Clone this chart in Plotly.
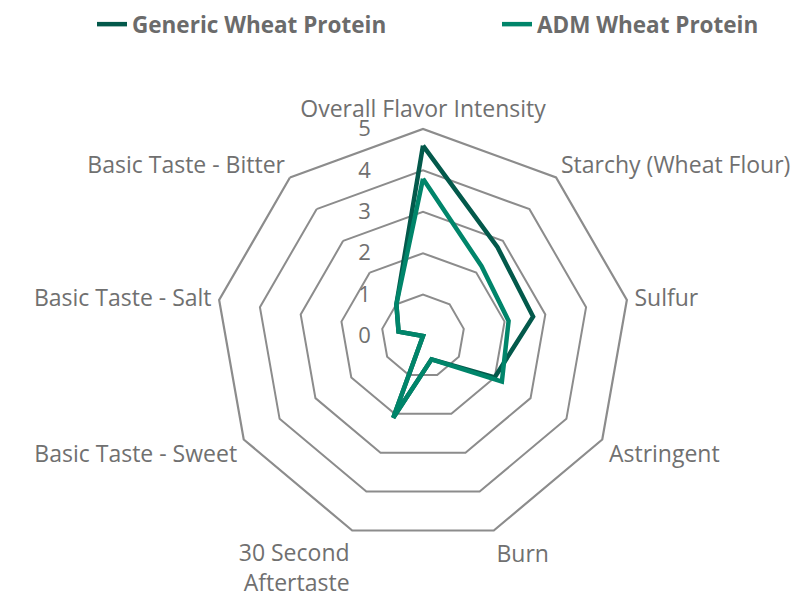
import plotly.graph_objects as go

categories = ["Overall Flavor Intensity", "Starchy (Wheat Flour)", "Sulfur", "Astringent",
              "Burn", "30 Second<br>Aftertaste", "Basic Taste - Sweet", "Basic Taste - Salt",
              "Basic Taste - Bitter"]
generic_values = [4.6, 2.8, 2.7, 2.0, 0.6, 2.1, 0.0, 0.6, 1.0]
adm_values = [3.8, 2.2, 2.1, 2.2, 0.6, 2.1, 0.0, 0.6, 1.0]
radial_ticks = [0, 1, 2, 3, 4, 5]

GRID = "#8c8c8c"
TXT = "#707070"
LEG_FONT = dict(size=22.5, color="#6b6b6b", family="'Open Sans', sans-serif", weight="bold")

fig = go.Figure()
fig.add_trace(go.Scatterpolar(
    r=generic_values + generic_values[:1], theta=categories + categories[:1],
    mode="lines", name="Generic Wheat Protein", legend="legend",
    line=dict(color="#03594B", width=4.5, shape="linear")))
fig.add_trace(go.Scatterpolar(
    r=adm_values + adm_values[:1], theta=categories + categories[:1],
    mode="lines", name="ADM Wheat Protein", legend="legend2",
    line=dict(color="#00856A", width=4.5, shape="linear")))

fig.update_layout(
    width=809, height=600,
    margin=dict(l=0, r=0, t=0, b=0, autoexpand=False),
    paper_bgcolor="white",
    font=dict(family="'Open Sans', sans-serif", color=TXT, size=20),
    showlegend=True,
    legend=dict(orientation="h", x=84 / 809, xanchor="left", y=1.0083, yanchor="top",
                font=LEG_FONT, itemwidth=30, bgcolor="rgba(0,0,0,0)"),
    legend2=dict(orientation="h", x=489 / 809, xanchor="left", y=1.0083, yanchor="top",
                 font=LEG_FONT, itemwidth=30, bgcolor="rgba(0,0,0,0)"),
    polar=dict(
        domain=dict(x=[208 / 809, 622 / 809], y=[1 - 535 / 600, 1 - 121 / 600]),
        bgcolor="white",
        gridshape="linear",
        radialaxis=dict(range=[0, 5], tickvals=radial_ticks, angle=90, tickangle=90,
                        side="counterclockwise", showline=False, showgrid=True,
                        gridcolor=GRID, gridwidth=2.2, ticks="outside", ticklen=44,
                        tickcolor="rgba(0,0,0,0)", tickfont=dict(size=22, color=TXT)),
        angularaxis=dict(direction="clockwise", rotation=90, showgrid=False,
                         showline=True, linecolor=GRID, linewidth=2.2,
                         ticks="outside", ticklen=2, tickcolor="rgba(0,0,0,0)",
                         tickfont=dict(size=23, color=TXT)),
    ),
)

fig.write_html("out.html")
